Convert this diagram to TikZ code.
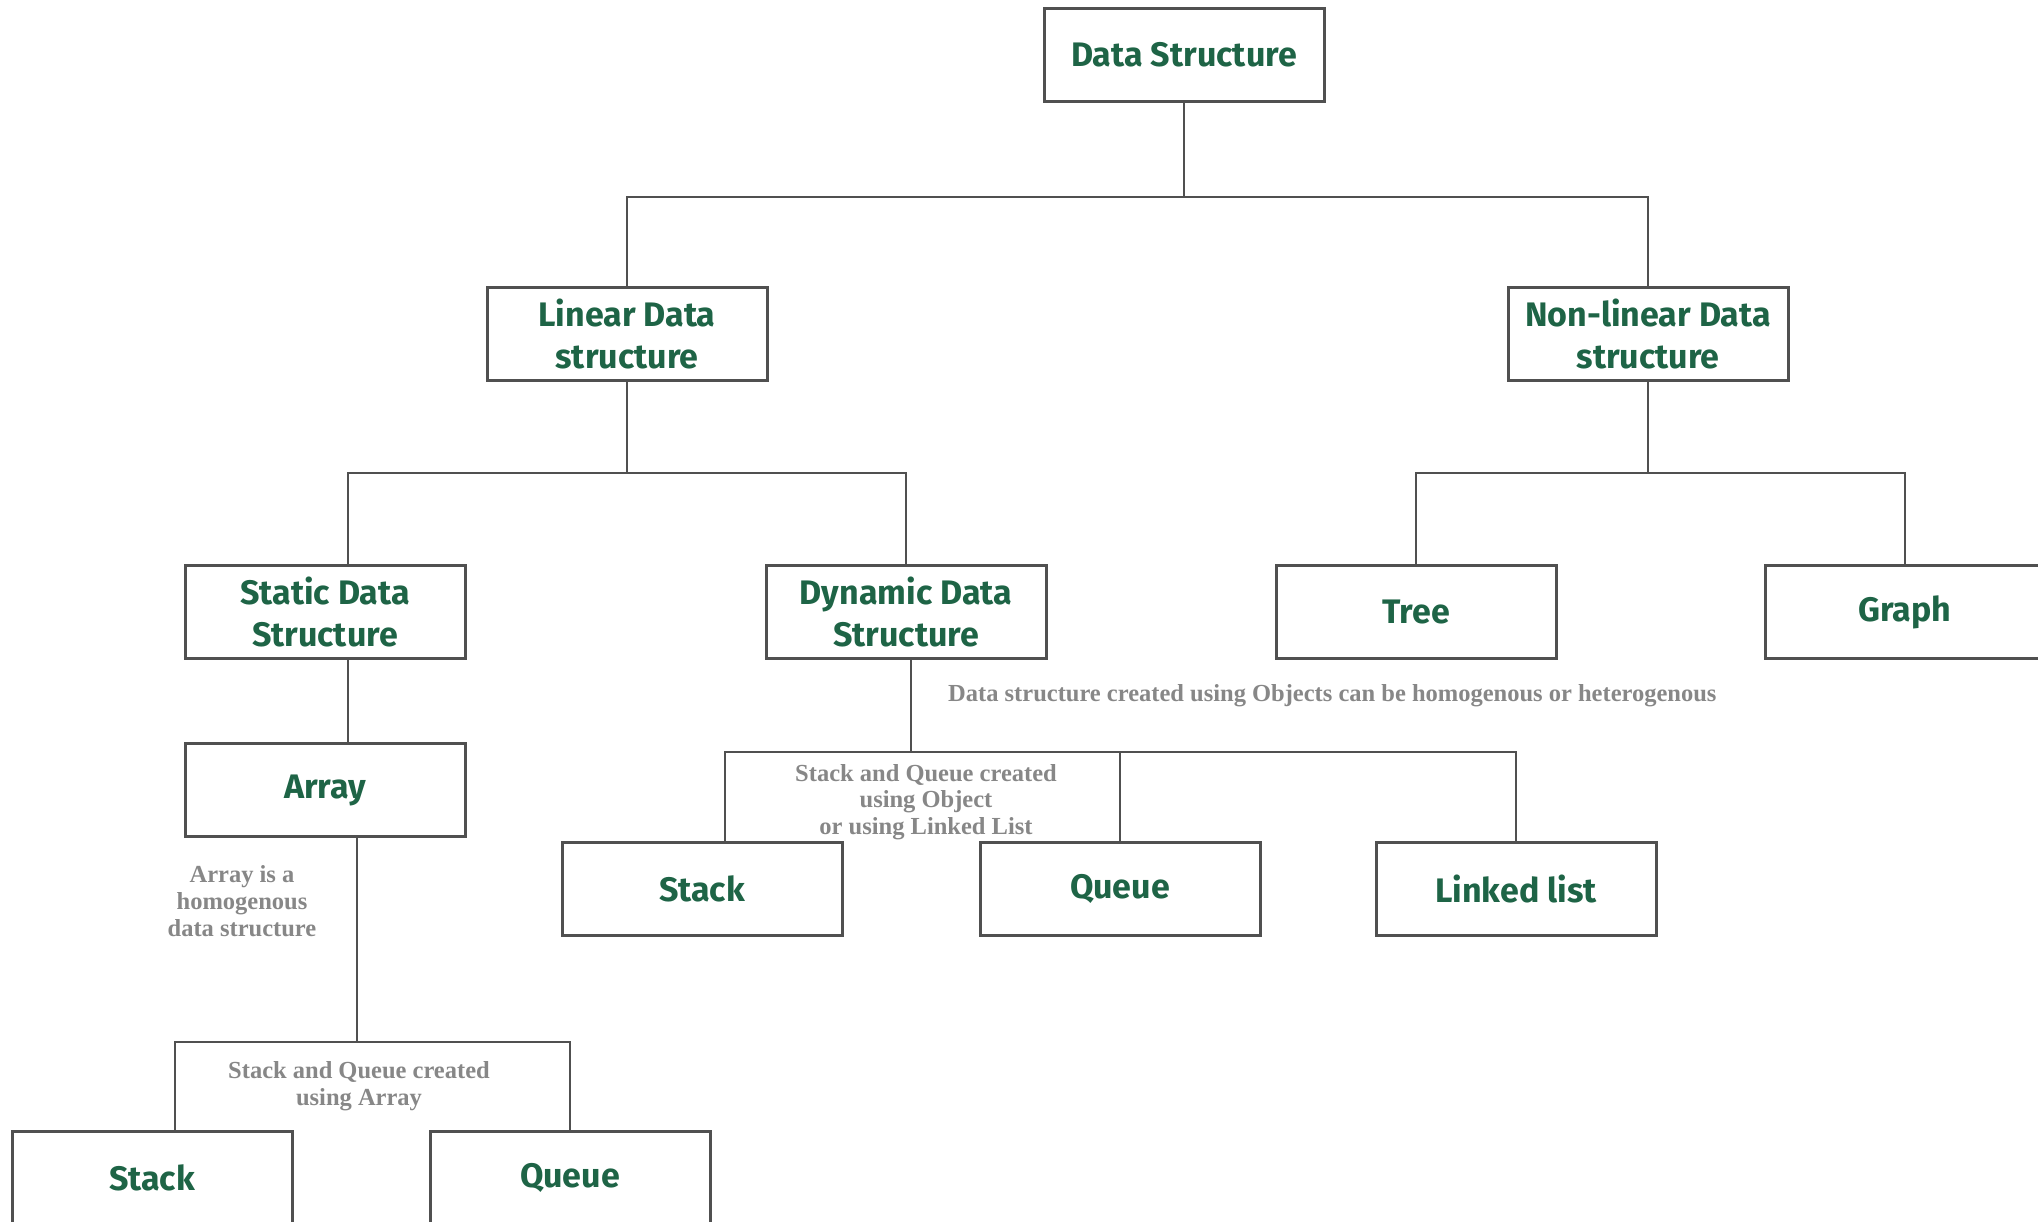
\documentclass[tikz,border=0pt]{standalone}
\usepackage{fontspec}
\newfontfamily\boxfont{Fira Sans}
\newfontfamily\notefont{Liberation Serif}
\definecolor{dsgreen}{RGB}{30,100,70}
\definecolor{notegray}{RGB}{135,135,135}
\definecolor{linegray}{RGB}{80,80,80}
\begin{document}
\begin{tikzpicture}[x=1pt,y=-1pt,
    box/.style={draw=linegray,line width=3pt,minimum width=280pt,minimum height=93pt,inner sep=0pt,align=center,text=dsgreen,font=\boxfont\bfseries\fontsize{34}{41.6}\selectfont},
    link/.style={draw=linegray,line width=2.6pt},
    note/.style={text=notegray,align=center,inner sep=0pt,font=\notefont\bfseries\fontsize{24.5}{26.7}\selectfont}]
    \fill[white] (0,0) rectangle (2038,1222);
    \useasboundingbox (0,0) rectangle (2038,1222);
    %levels
    \node[box] (ds) at (1184,55) {Data Structure};
    \node[box] (lin) at (627,334) {Linear Data\\structure};
    \node[box] (non) at (1648,334) {Non-linear Data\\structure};
    \node[box] (sta) at (325,612) {Static Data\\Structure};
    \node[box] (dyn) at (906,612) {Dynamic Data\\Structure};
    \node[box] (tree) at (1416,612) {Tree};
    \node[box] (graph) at (1905,612) {Graph};
    \node[box] (arr) at (325,790) {Array};
    \node[box] (stkb) at (702,889) {Stack};
    \node[box] (queb) at (1120,889) {Queue};
    \node[box] (ll) at (1516,889) {Linked list};
    \node[box] (stka) at (152,1178) {Stack};
    \node[box] (quea) at (570,1178) {Queue};
    %links
    \draw[link] (ds.south) -- ++(0,94) coordinate (bus1);
    \draw[link] (lin.north) |- (bus1) -| (non.north);
    \draw[link] (lin.south) -- ++(0,91) coordinate (bus2);
    \draw[link] ([xshift=23pt]sta.north) |- (bus2) -| (dyn.north);
    \draw[link] (non.south) -- ++(0,91) coordinate (bus3);
    \draw[link] (tree.north) |- (bus3) -| (graph.north);
    \draw[link] ([xshift=23pt]sta.south) -- ([xshift=23pt]arr.north);
    \draw[link] ([xshift=5pt]dyn.south) -- ++(0,92) coordinate (bus4);
    \draw[link] ([xshift=23pt]stkb.north) |- (bus4) -| (ll.north);
    \draw[link] (bus4 -| queb.north) -- (queb.north);
    \draw[link] ([xshift=32pt]arr.south) -- ++(0,204) coordinate (bus5);
    \draw[link] ([xshift=23pt]stka.north) |- (bus5) -| (quea.north);
    %notes
    \node[note,anchor=west] (objnote) at (948,696) {Data structure created using Objects can be homogenous or heterogenous};
    \node[note] (dynnote) at (926,802) {Stack and Queue created\\using Object\\or using Linked List};
    \node[note] (arrnote) at (242,901) {Array is a\\homogenous\\data structure};
    \node[note] (arrnoteb) at (359,1086) {Stack and Queue created\\using Array};
\end{tikzpicture}
\end{document}
